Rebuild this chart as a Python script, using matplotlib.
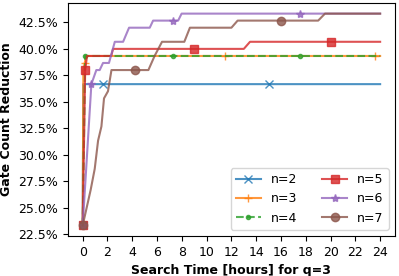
import matplotlib
matplotlib.use("Agg")
import matplotlib.pyplot as plt
from matplotlib.ticker import MultipleLocator, PercentFormatter

# search time (hours) and gate count reduction (%) per qubit count n, q=3
t_n2 = [0.0, 0.05, 1.64, 15.0, 24.0]
r_n2 = [23.33, 36.67, 36.67, 36.67, 36.67]
mk_n2 = [0, 2, 3]

t_n3 = [0.0, 0.05, 0.16, 0.3, 11.5, 23.6, 24.0]
r_n3 = [23.33, 38.0, 38.67, 39.33, 39.33, 39.33, 39.33]
mk_n3 = [0, 2, 4, 5]

t_n4 = [0.0, 0.2, 7.25, 17.5, 24.0]
r_n4 = [23.33, 39.33, 39.33, 39.33, 39.33]
mk_n4 = [0, 1, 2, 3]

t_n5 = [0.0, 0.2, 0.35, 2.3, 2.45, 9.0, 13.0, 13.5, 20.0, 24.0]
r_n5 = [23.33, 38.0, 39.33, 39.33, 40.0, 40.0, 40.0, 40.67, 40.67, 40.67]
mk_n5 = [0, 1, 5, 8]

t_n6 = [0.0, 0.7, 1.1, 1.37, 1.64, 2.12, 2.59, 3.26, 3.74, 5.41, 5.68,
        7.25, 7.7, 7.98, 17.5, 24.0]
r_n6 = [23.33, 36.67, 38.0, 38.0, 38.67, 38.67, 40.67, 40.67, 42.0, 42.0,
        42.67, 42.67, 42.67, 43.33, 43.33, 43.33]
mk_n6 = [0, 1, 11, 14]

t_n7 = [0.0, 0.64, 0.97, 1.24, 1.51, 1.72, 2.04, 2.32, 4.2, 5.3, 5.8, 6.4,
        8.2, 8.65, 12.0, 12.5, 16.0, 19.0, 19.55, 24.0]
r_n7 = [23.33, 26.67, 28.67, 31.33, 32.67, 35.33, 36.0, 38.0, 38.0, 38.0,
        39.33, 40.67, 40.67, 42.0, 42.0, 42.67, 42.67, 42.67, 43.33, 43.33]
mk_n7 = [0, 8, 16]

series = [
    ("n=2", t_n2, r_n2, mk_n2, "x", "-"),
    ("n=3", t_n3, r_n3, mk_n3, "+", "-"),
    ("n=4", t_n4, r_n4, mk_n4, ".", "--"),
    ("n=5", t_n5, r_n5, mk_n5, "s", "-"),
    ("n=6", t_n6, r_n6, mk_n6, "*", "-"),
    ("n=7", t_n7, r_n7, mk_n7, "o", "-"),
]

plt.rcParams["font.size"] = 9

fig = plt.figure(figsize=(3.99, 2.76), dpi=100)
ax = fig.add_axes([0.170, 0.145, 0.820, 0.844])

for label, t, r, mk, marker, ls in series:
    ax.plot(t, r, linestyle=ls, marker=marker, markevery=mk, label=label,
            alpha=0.8, linewidth=1.5)

ax.xaxis.set_major_locator(MultipleLocator(2))
ax.yaxis.set_major_locator(MultipleLocator(2.5))
ax.yaxis.set_major_formatter(PercentFormatter(decimals=1))
ax.set_xlabel("Search Time [hours] for q=3", fontweight="bold")
ax.set_ylabel("Gate Count Reduction", fontweight="bold")
ax.legend(loc="lower right", ncol=2)

fig.savefig("out.png", dpi=100)
